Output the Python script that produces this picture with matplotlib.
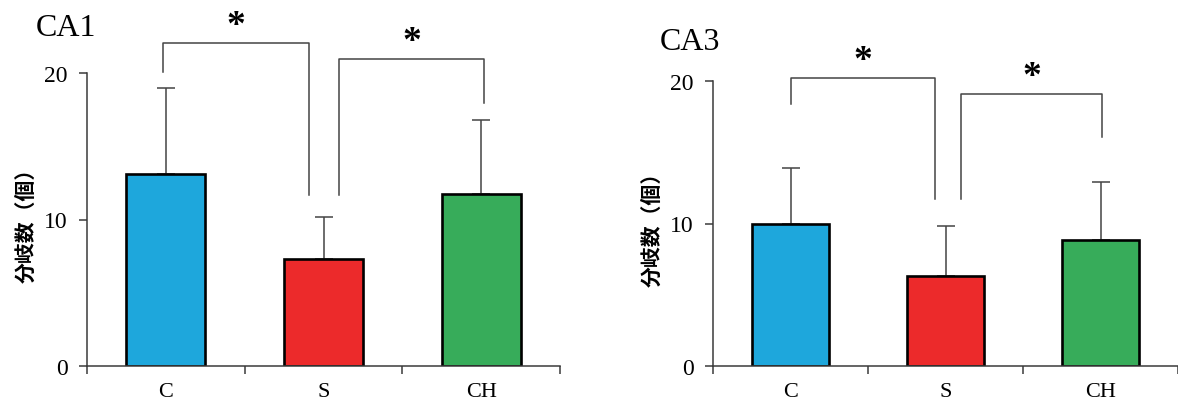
import matplotlib
matplotlib.use("Agg")
import matplotlib.pyplot as plt
import numpy as np

categories = ["C", "S", "CH"]
ca1_means = [13.1, 7.3, 11.75]
ca1_err = [5.85, 2.9, 5.05]
ca3_means = [10.0, 6.3, 8.85]
ca3_err = [3.9, 3.5, 4.05]
yticks = [0, 10, 20]
bar_colors = ["#1EA7DC", "#EC2A2B", "#37AC5A"]
ylabel = "分岐数（個）"

# significance brackets: (x_left, x_right, y_top, y_left_end, y_right_end)
ca1_brackets = [(-0.02, 0.91, 22.05, 20.1, 11.7), (1.10, 2.02, 20.95, 11.7, 17.95)]
ca3_brackets = [(0.0, 0.93, 20.2, 18.4, 11.7), (1.10, 2.01, 19.1, 11.7, 16.1)]

W, H = 1178, 410
fig = plt.figure(figsize=(W / 100, H / 100), dpi=100)

serif = ["Liberation Serif", "DejaVu Serif"]
cjk = ["Noto Sans CJK JP", "DejaVu Sans"]
axc = "#3a3a3a"


def panel(rect, means, err, brackets, title, title_xy):
    ax = fig.add_axes(rect)
    x = np.arange(len(categories))
    ax.errorbar(x, means, yerr=[np.zeros(len(err)), err], fmt="none",
                ecolor="#444444", elinewidth=1.1, capsize=6.5, capthick=1.1, zorder=1)
    ax.bar(x, means, width=0.5, color=bar_colors, edgecolor="black", linewidth=1.9, zorder=2)
    ax.set_xlim(-0.5, 2.5)
    ax.set_ylim(0, 20)
    for s in ["top", "right"]:
        ax.spines[s].set_visible(False)
    for s in ["left", "bottom"]:
        ax.spines[s].set_color(axc)
        ax.spines[s].set_linewidth(1.1)
    ax.set_yticks(yticks)
    ax.set_yticklabels([str(v) for v in yticks], fontfamily=serif, fontsize=17)
    ax.tick_params(axis="y", direction="out", length=6, width=1.1, color=axc, pad=8)
    ax.set_xticks([-0.5, 0.5, 1.5, 2.5])
    ax.set_xticklabels([])
    ax.tick_params(axis="x", direction="out", length=6, width=1.1, color=axc)
    for i, c in enumerate(categories):
        ax.text(i, -1.1, c, ha="center", va="top", fontfamily=serif, fontsize=16,
                transform=ax.transData, clip_on=False)
    ax.set_ylabel(ylabel, fontfamily=cjk, fontsize=15, fontweight="bold", labelpad=5)
    for (x1, x2, yt, y1, y2) in brackets:
        ax.plot([x1, x1, x2, x2], [y1, yt, yt, y2], color="#444444", lw=1.1,
                clip_on=False, zorder=3)
        ax.text((x1 + x2) / 2, yt + 0.0, "*", ha="center", va="bottom",
                fontfamily=serif, fontsize=27, fontweight="bold", clip_on=False)
    fig.text(title_xy[0], title_xy[1], title, fontfamily=serif, fontsize=23,
             ha="left", va="center")
    return ax


panel([87 / W, 1 - 367 / H, (560 - 87) / W, (367 - 74) / H],
      ca1_means, ca1_err, ca1_brackets, "CA1", (36 / W, 1 - 28 / H))
panel([713 / W, 1 - 367 / H, (1178 - 713) / W, (367 - 82) / H],
      ca3_means, ca3_err, ca3_brackets, "CA3", (660 / W, 1 - 43 / H))

fig.savefig("out.png", dpi=100)
